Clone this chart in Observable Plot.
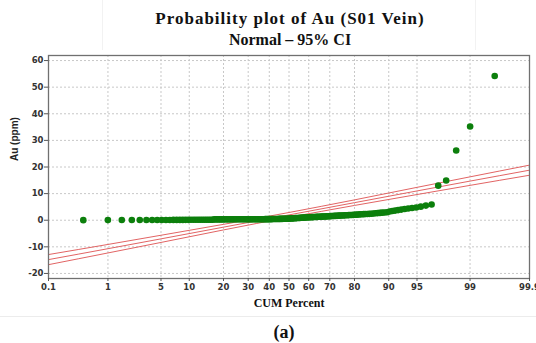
<!DOCTYPE html>
<html><head><meta charset="utf-8">
<script src="https://cdn.jsdelivr.net/npm/d3@7"></script>
<script src="https://cdn.jsdelivr.net/npm/@observablehq/plot@0.6"></script>
<style>
body{margin:0;background:#fff;}
#wrap{position:relative;width:536px;height:343px;overflow:hidden;background:#fff;}
.t{position:absolute;left:44px;width:492px;text-align:center;font-family:"Liberation Serif","Times New Roman",serif;font-weight:bold;font-size:16px;line-height:18px;color:#111;}
</style></head><body>
<div id="wrap">
<div style="position:absolute;left:102px;top:0;height:50px;border-left:1px solid #f2f2f2"></div>
<div style="position:absolute;left:475px;top:0;height:50px;border-left:1px solid #f2f2f2"></div>
<div class="t" style="top:10px;font-size:17px;letter-spacing:1px">Probability plot of Au (S01 Vein)</div>
<div class="t" style="top:31px">Normal – 95% CI</div>
<div id="chart" style="position:absolute;left:0;top:50px"></div>
<div style="position:absolute;left:0;top:316px;width:536px;border-top:1px solid #ececec"></div>
<div class="t" style="top:322px;left:0;width:568px;font-size:18px;line-height:20px">(a)</div>
</div>
<script>
// Au (ppm) values, sorted ascending
const auValues = [
  0.03,0.05,0.06,0.07,0.08,0.08,0.09,0.10,0.10,0.11,0.11,0.12,0.12,0.13,0.13,0.14,0.14,0.15,0.15,0.16,0.16,0.17,0.17,0.18,0.18,0.19,0.19,0.20,
  0.30,0.30,0.30,0.31,0.31,0.31,0.32,0.32,0.32,0.33,0.33,0.33,0.34,0.34,0.34,0.35,0.35,0.35,0.35,0.36,0.36,0.36,0.36,0.37,0.37,0.37,0.37,0.38,0.38,0.38,0.38,0.38,0.39,0.39,0.39,0.39,0.40,0.40,0.40,0.40,
  0.41,0.42,0.43,0.44,0.45,0.46,0.47,0.48,0.49,0.50,0.51,0.52,0.53,0.55,0.56,0.58,0.60,
  0.62,0.65,0.68,0.71,0.74,0.77,0.80,0.83,0.86,0.88,0.91,0.94,0.97,1.00,1.03,1.06,1.10,
  1.12,1.14,1.16,1.18,1.20,1.22,1.24,1.27,1.29,1.31,1.34,1.36,1.39,1.42,1.44,1.47,1.50,
  1.53,1.56,1.59,1.62,1.65,1.68,1.71,1.74,1.77,1.80,1.83,1.86,1.89,1.92,1.95,1.98,2.01,
  2.05,2.10,2.15,2.20,2.24,2.28,2.32,2.36,2.40,
  2.45,2.52,2.60,2.68,2.76,2.84,2.92,3.00,
  3.30,3.45,3.62,3.80,
  4.00,4.20,4.40,4.60,4.80,
  5.10,5.50,5.90,
  13.0,14.9,26.2,35.2,54.2
];
// Fitted normal line and 95% CI bands
const ciPercents  = [0.1, 1, 5, 20, 50, 80, 95, 99, 99.9];
const fitValues   = [-14.8, -10.7, -7.0, -2.6, 2.0, 6.6, 11.0, 14.7, 18.8];
const lowerValues = [-16.7, -12.3, -8.35, -3.65, 1.1, 5.55, 9.65, 13.1, 16.9];
const upperValues = [-12.9, -9.1, -5.65, -1.55, 2.9, 7.65, 12.35, 16.3, 20.7];
// Axis ticks
const xTickPercents = [0.1, 1, 5, 10, 20, 30, 40, 50, 60, 70, 80, 90, 95, 99, 99.9];
const xTickLabels = ["0.1","1","5","10","20","30","40","50","60","70","80","90","95","99","99.9"];
const yTicks = [-20, -10, 0, 10, 20, 30, 40, 50, 60];

// normal probability scale transform (inverse normal CDF, Acklam)
function probit(p) {
  const a=[-3.969683028665376e+01,2.209460984245205e+02,-2.759285104469687e+02,1.383577518672690e+02,-3.066479806614716e+01,2.506628277459239e+00];
  const b=[-5.447609879822406e+01,1.615858368580409e+02,-1.556989798598866e+02,6.680131188771972e+01,-1.328068155288572e+01];
  const c=[-7.784894002430293e-03,-3.223964580411365e-01,-2.400758277161838e+00,-2.549732539343734e+00,4.374664141464968e+00,2.938163982698783e+00];
  const d=[7.784695709041462e-03,3.224671290700398e-01,2.445134137142996e+00,3.754408661907416e+00];
  const pl=0.02425, ph=1-pl;
  let q,r;
  if (p<pl){q=Math.sqrt(-2*Math.log(p));return (((((c[0]*q+c[1])*q+c[2])*q+c[3])*q+c[4])*q+c[5])/((((d[0]*q+d[1])*q+d[2])*q+d[3])*q+1);}
  if (p<=ph){q=p-0.5;r=q*q;return (((((a[0]*r+a[1])*r+a[2])*r+a[3])*r+a[4])*r+a[5])*q/(((((b[0]*r+b[1])*r+b[2])*r+b[3])*r+b[4])*r+1);}
  q=Math.sqrt(-2*Math.log(1-p));return -(((((c[0]*q+c[1])*q+c[2])*q+c[3])*q+c[4])*q+c[5])/((((d[0]*q+d[1])*q+d[2])*q+d[3])*q+1);
}
const zp = pct => probit(pct / 100);

const n = auValues.length;
const points = auValues.map((v, i) => ({pct: (i + 1 - 0.3) / (n + 0.4) * 100, au: v}));
const bands = ["lower","fit","upper"].flatMap((k, j) =>
  ciPercents.map((p, i) => ({band: k, pct: p, v: [lowerValues, fitValues, upperValues][j][i]})));

const xTickZ = xTickPercents.map(zp);
const labelMap = new Map(xTickZ.map((z, i) => [z, xTickLabels[i]]));
const gridStyle = {stroke: "#c8c8c8", strokeOpacity: 1, strokeDasharray: "2,2"};

const chart = Plot.plot({
  width: 536, height: 270,
  marginLeft: 48, marginRight: 7, marginTop: 5, marginBottom: 42,
  style: {fontFamily: "'DejaVu Sans', sans-serif", fontSize: "8.5px", fontWeight: "bold", color: "#333", background: "white", overflow: "visible"},
  x: {type: "linear", domain: [zp(0.1), zp(99.9)]},
  y: {domain: [-21.9, 61.9]},
  marks: [
    Plot.gridX(xTickZ, gridStyle),
    Plot.gridY(yTicks, gridStyle),
    Plot.line(bands, {x: d => zp(d.pct), y: "v", z: "band", stroke: "#e26464", strokeWidth: 1, curve: "monotone-x"}),
    Plot.dot(points, {x: d => zp(d.pct), y: "au", r: 3.3, fill: "#0c7f0c", stroke: "none"}),
    Plot.frame({stroke: "#707070", strokeWidth: 1.3}),
    Plot.axisX(xTickZ, {tickFormat: v => labelMap.get(v), tickSize: 3, tickPadding: 2, label: null, stroke: "#555"}),
    Plot.axisY(yTicks, {tickFormat: d => String(d), tickSize: 4, tickPadding: 1, label: null, stroke: "#555"}),
    Plot.text(["CUM Percent"], {text: d => d, frameAnchor: "bottom", dy: 28, fontFamily: "'Liberation Serif', serif", fontSize: 12, fontWeight: "bold", fill: "#111"}),
    Plot.text(["Au (ppm)"], {text: d => d, frameAnchor: "left", dx: -34, dy: -6, rotate: -90, fontFamily: "'Liberation Sans', sans-serif", fontSize: 10, fontWeight: "bold", fill: "#222"})
  ]
});
document.getElementById("chart").appendChild(chart);
</script>
</body></html>
